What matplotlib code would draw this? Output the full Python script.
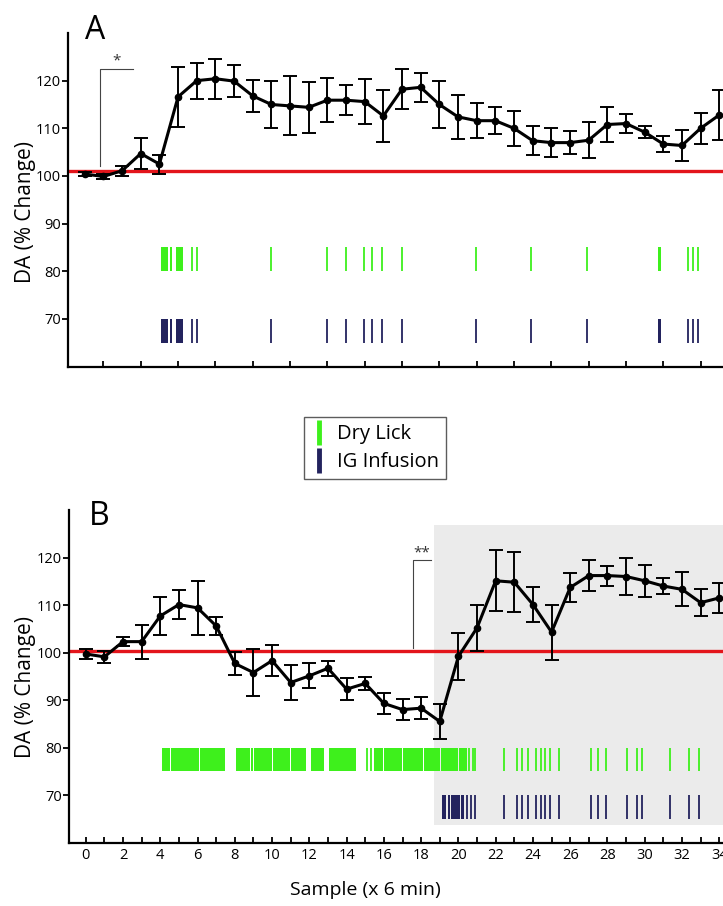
import matplotlib
matplotlib.use("Agg")
import matplotlib.pyplot as plt
from matplotlib.lines import Line2D

plt.rcParams['font.family'] = ['Open Sans', 'DejaVu Sans']

# samples (x 6 min)
samples = list(range(35))

# panel A: DA (% change), mean and SEM
a_mean = [100.4, 99.9, 101.1, 104.7, 102.5, 116.6, 120.0, 120.4, 119.9, 116.8,
          115.0, 114.7, 114.4, 115.9, 115.9, 115.6, 112.6, 118.2, 118.6, 115.0,
          112.4, 111.6, 111.6, 110.0, 107.4, 107.0, 107.0, 107.5, 110.8, 111.0,
          109.2, 106.7, 106.4, 110.0, 112.8]
a_err = [0.5, 0.5, 1.0, 3.2, 2.0, 6.3, 3.8, 4.2, 3.3, 3.3,
         5.0, 6.2, 5.4, 4.6, 3.1, 4.7, 5.4, 4.2, 3.1, 4.9,
         4.6, 3.7, 2.8, 3.7, 3.1, 3.0, 2.4, 3.8, 3.6, 2.0,
         1.3, 1.6, 3.3, 3.3, 5.2]

# panel B
b_mean = [99.7, 99.1, 102.3, 102.3, 107.7, 110.1, 109.4, 105.6, 97.7, 95.8,
          98.3, 93.7, 95.1, 96.7, 92.3, 93.5, 89.3, 88.0, 88.3, 85.5,
          99.2, 105.2, 115.1, 114.8, 110.1, 104.3, 113.7, 116.2, 116.2, 116.0,
          115.1, 114.0, 113.3, 110.5, 111.5]
b_err = [1.0, 1.2, 1.0, 3.6, 4.0, 3.0, 5.6, 1.9, 2.5, 4.9,
         3.3, 3.7, 2.6, 1.6, 2.3, 1.3, 2.2, 2.2, 2.3, 3.6,
         5.0, 4.8, 6.4, 6.3, 3.6, 5.8, 3.0, 3.2, 2.1, 3.9,
         3.4, 1.7, 3.6, 2.8, 3.1]

baseline_a = 101.0
baseline_b = 100.3

# events in panel A (dry licks and IG infusions coincide)
a_bouts = [(4.11, 4.47), (4.56, 4.70), (4.91, 5.27), (30.70, 30.87)]
a_events = [5.75, 5.99, 9.99, 12.99, 13.99, 14.98, 15.37, 15.94, 16.98,
            20.95, 23.90, 26.93, 32.35, 32.60, 32.88]

# events in panel B
b_lick_bouts = [(4.10, 4.53), (4.58, 5.30), (5.35, 6.06), (6.11, 7.50),
                (8.05, 8.79), (8.85, 9.00), (9.05, 9.98), (10.03, 10.97),
                (11.01, 11.80), (12.10, 12.78), (13.05, 14.48),
                (15.45, 15.97), (16.01, 16.96), (17.00, 18.12), (18.16, 19.01),
                (19.05, 19.98), (20.02, 20.45)]
b_licks = [15.07, 15.32, 20.59, 20.77, 20.91]
b_ig_bouts = [(19.12, 19.36), (19.42, 19.55), (19.60, 20.08), (20.13, 20.30)]
b_ig = [20.47, 20.68, 20.91]
b_late = [22.47, 23.13, 23.42, 23.72, 24.15, 24.42, 24.63, 24.90, 25.40,
          27.14, 27.48, 27.90, 29.06, 29.60, 29.86, 31.35, 32.35, 32.89]

green = '#3ef01c'
navy = '#23235e'
red = '#e3151b'


def style_axes(ax):
    ax.set_xlim(-0.9, 34.2)
    ax.set_ylim(60, 130)
    ax.set_yticks([70, 80, 90, 100, 110, 120])
    for s in ['top', 'right']:
        ax.spines[s].set_visible(False)
    for s in ['left', 'bottom']:
        ax.spines[s].set_linewidth(1.6)
    ax.tick_params(axis='y', direction='out', length=4, width=1.3, labelsize=10.5, pad=1)
    ax.tick_params(axis='x', which='both', direction='in', length=4, width=1.3, labelsize=10.5)


def plot_series(ax, mean, err, base):
    ax.axhline(base, color=red, lw=2.4, zorder=2)
    ax.errorbar(samples, mean, yerr=err, color='black', lw=2.2, elinewidth=1.4,
                capsize=5, capthick=1.4, marker='o', markersize=4.5, zorder=3)


fig = plt.figure(figsize=(7.23, 9.06), dpi=100)

# ---- panel A
axA = fig.add_axes([0.094, 0.5953, 0.906, 0.3683])
style_axes(axA)
plot_series(axA, a_mean, a_err, baseline_a)
axA.broken_barh([(s, e - s) for s, e in a_bouts], (80, 5), color=green, lw=0)
axA.vlines(a_events, 80, 85, color=green, lw=1.3)
axA.broken_barh([(s, e - s) for s, e in a_bouts], (65, 5), color=navy, lw=0)
axA.vlines(a_events, 65, 70, color=navy, lw=1.3)
axA.set_xticks(range(1, 35, 2))
axA.set_xticklabels([])
axA.plot([0.8, 0.8, 2.56], [102, 122.4, 122.4], color='#444444', lw=0.8)
axA.text(1.7, 122.6, '*', ha='center', va='bottom', fontsize=11, color='#333333')

# ---- panel B
axB = fig.add_axes([0.0954, 0.0699, 0.9046, 0.3672])
style_axes(axB)
axB.axvspan(18.68, 40, ymin=(63.7 - 60) / 70, ymax=(126.8 - 60) / 70,
            color='#ebebeb', lw=0, zorder=0)
plot_series(axB, b_mean, b_err, baseline_b)
axB.broken_barh([(s, e - s) for s, e in b_lick_bouts], (75, 5), color=green, lw=0)
axB.vlines(b_licks + b_late, 75, 80, color=green, lw=1.3)
axB.broken_barh([(s, e - s) for s, e in b_ig_bouts], (65, 5), color=navy, lw=0)
axB.vlines(b_ig + b_late, 65, 70, color=navy, lw=1.3)
axB.set_xticks(range(0, 35, 2))
axB.set_xticks(range(1, 35, 2), minor=True)
axB.plot([17.55, 17.55, 18.55], [101, 119.5, 119.5], color='#444444', lw=0.8)
axB.text(18.05, 119.3, '**', ha='center', va='bottom', fontsize=11, color='#333333')

# labels
fig.text(0.035, 1 - 212 / 906, 'DA (% Change)', rotation=90, ha='center', va='center', fontsize=15)
fig.text(0.035, 1 - 687 / 906, 'DA (% Change)', rotation=90, ha='center', va='center', fontsize=15)
fig.text(0.505, 0.018, 'Sample (x 6 min)', ha='center', va='center', fontsize=14)
fig.text(85 / 723, 1 - 39 / 906, 'A', fontsize=23, ha='left', va='baseline')
fig.text(89 / 723, 1 - 525 / 906, 'B', fontsize=23, ha='left', va='baseline')

# legend
handles = [Line2D([], [], color=green, marker='|', ls='None', markersize=18, markeredgewidth=3.5),
           Line2D([], [], color=navy, marker='|', ls='None', markersize=18, markeredgewidth=3.5)]
leg = fig.legend(handles, ['Dry Lick', 'IG Infusion'], loc='lower left',
                 bbox_to_anchor=(304 / 723, 1 - 479 / 906), borderaxespad=0,
                 fancybox=False, edgecolor='#333333', fontsize=14.5,
                 handlelength=0.8, handletextpad=0.5, labelspacing=0.4,
                 borderpad=0.35)
leg.get_frame().set_linewidth(1.0)

fig.savefig('out.png', dpi=100)
